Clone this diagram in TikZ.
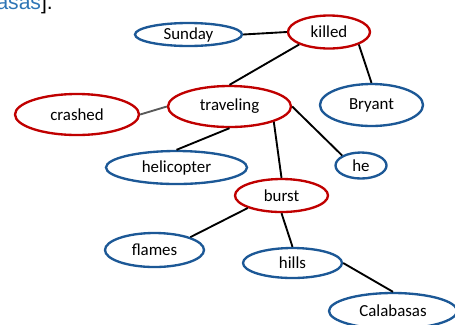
\documentclass[tikz,border=0pt]{standalone}
\usepackage{fontspec}
\setmainfont{Carlito}
\newfontfamily\capfont{Liberation Sans}
\usetikzlibrary{shapes.geometric}
\definecolor{predred}{RGB}{192,0,0}
\definecolor{argblue}{RGB}{28,88,150}
\definecolor{citeblue}{RGB}{46,117,182}
\definecolor{linkgray}{RGB}{89,89,89}

\begin{document}
\begin{tikzpicture}[x=0.03cm,y=-0.03cm,
    word/.style={ellipse,draw,line width=2pt,inner sep=0pt,
      font=\fontsize{14.4}{17}\selectfont},
    pred/.style={word,draw=predred},
    arg/.style={word,draw=argblue},
    link/.style={line width=1.6pt,black}]

\clip (0,0) rectangle (455,324);

\node[anchor=base east,inner sep=0pt,font=\capfont\fontsize{18}{20}\selectfont] (tail) at (53,9) {\textcolor{citeblue}{asas}].};

\node[pred,minimum width=2.46cm,minimum height=0.99cm] (killed) at (329,32) {killed};
\node[arg,minimum width=3.21cm,minimum height=0.69cm] (sunday) at (188.5,34.5) {Sunday};
\node[arg,minimum width=3.09cm,minimum height=1.26cm] (bryant) at (371.5,105) {Bryant};
\node[pred,minimum width=3.69cm,minimum height=1.23cm] (traveling) at (229.5,106.5) {traveling};
\node[pred,minimum width=3.72cm,minimum height=1.23cm] (crashed) at (77,114.5) {crashed};
\node[arg,minimum width=4.23cm,minimum height=0.99cm] (helicopter) at (176.5,167.5) {helicopter};
\node[arg,minimum width=1.53cm,minimum height=0.78cm] (he) at (361,165.5) {he};
\node[pred,minimum width=2.79cm,minimum height=0.99cm] (burst) at (281.5,195.5) {burst};
\node[arg,minimum width=2.97cm,minimum height=1.02cm] (flames) at (154.5,250) {flames};
\node[arg,minimum width=2.97cm,minimum height=0.9cm] (hills) at (292.5,263) {hills};
\node[arg,minimum width=3.84cm,minimum height=1.08cm] (calabasas) at (393,311) {Calabasas};

\draw[link] (sunday.east) -- (killed.west);
\draw[link] (killed.south west) -- (traveling.north);
\draw[link] (killed.south east) -- (bryant.north);
\draw[link,linkgray] (crashed.east) -- (traveling.west);
\draw[link] (traveling.south) -- (helicopter.north);
\draw[link] (traveling.south east) -- (burst.north);
\draw[link] (traveling.east) -- (he.north west);
\draw[link] (burst.south west) -- (flames.north east);
\draw[link] (burst.south) -- (hills.north);
\draw[link] (hills.east) -- (calabasas.north);
\end{tikzpicture}
\end{document}
